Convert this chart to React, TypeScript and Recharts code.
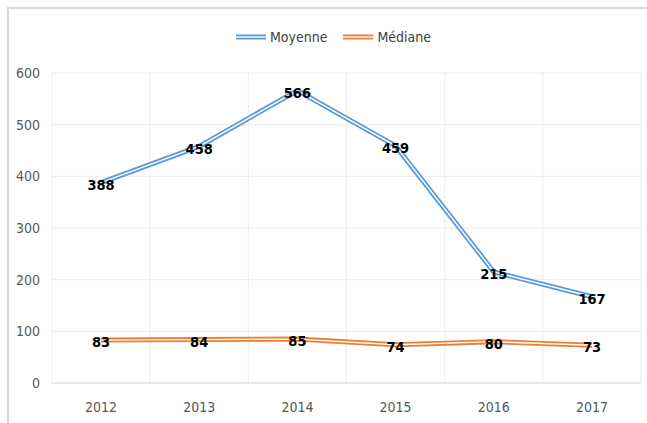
import { CartesianGrid, LabelList, Legend, Line, LineChart, XAxis, YAxis } from "recharts"

const years = ["2012", "2013", "2014", "2015", "2016", "2017"]
const moyenne = [388, 458, 566, 459, 215, 167]
const mediane = [83, 84, 85, 74, 80, 73]
const yTicks = [0, 100, 200, 300, 400, 500, 600]

const data = years.map((year, i) => ({ year, moyenne: moyenne[i], mediane: mediane[i] }))

const font = '"Liberation Sans Narrow", "DejaVu Sans Condensed", "Open Sans", sans-serif'
const blue = "#5b9bd5"
const orange = "#ed7d31"

function DoubleIcon({ color }: { color: string }) {
  return (
    <svg width={30} height={8} style={{ marginRight: 4 }}>
      <line x1={0} y1={4} x2={30} y2={4} stroke={color} strokeWidth={5} />
      <line x1={0} y1={4} x2={30} y2={4} stroke="#fff" strokeWidth={1.4} />
    </svg>
  )
}

function ChartLegend() {
  const items = [
    { name: "Moyenne", color: blue },
    { name: "Médiane", color: orange },
  ]
  return (
    <div style={{ height: 46, display: "flex", justifyContent: "center", alignItems: "flex-start", paddingLeft: 26 }}>
      {items.map((it) => (
        <div key={it.name} style={{ display: "flex", alignItems: "center", margin: "0 8px", height: 20, fontFamily: font, fontSize: 14, color: "#404040" }}>
          <DoubleIcon color={it.color} />
          {it.name}
        </div>
      ))}
    </div>
  )
}

const labelStyle = { fontFamily: font, fontSize: 14.5, fontWeight: 700, fill: "#000" }

export default function App() {
  return (
    <div style={{ position: "absolute", left: 0, top: 0, width: 647, height: 423, background: "#fff", overflow: "hidden" }}>
      <div style={{ position: "absolute", left: 7, top: 7, width: 660, height: 440, borderTop: "2px solid #d9d9d9", borderLeft: "2px solid #d9d9d9" }} />
      <LineChart width={647} height={423} data={data} margin={{ top: 27, right: 6, bottom: 0, left: 0 }}>
        <CartesianGrid
          stroke="#ececec"
          verticalCoordinatesGenerator={({ offset }: any) =>
            years.map((_, i) => offset.left + ((i + 1) * offset.width) / years.length).concat([offset.left])
          }
        />
        <XAxis
          dataKey="year"
          stroke="#d9d9d9"
          tickLine={false}
          tickSize={0}
          tickMargin={19}
          height={40}
          padding={{ left: 49, right: 49 }}
          tick={{ fill: "#595959", fontSize: 14, fontFamily: font }}
        />
        <YAxis
          domain={[0, 600]}
          ticks={yTicks}
          axisLine={false}
          tickLine={false}
          tickSize={0}
          tickMargin={12}
          width={52}
          tick={{ fill: "#595959", fontSize: 14, fontFamily: font }}
        />
        <Legend verticalAlign="top" content={() => <ChartLegend />} />
        <Line dataKey="moyenne" stroke={blue} strokeWidth={5} dot={false} isAnimationActive={false} legendType="none" />
        <Line dataKey="moyenne" stroke="#fff" strokeWidth={1.4} dot={false} isAnimationActive={false} legendType="none">
          <LabelList dataKey="moyenne" position="center" dy={2} style={labelStyle} />
        </Line>
        <Line dataKey="mediane" stroke={orange} strokeWidth={5} dot={false} isAnimationActive={false} legendType="none" />
        <Line dataKey="mediane" stroke="#fff" strokeWidth={1.4} dot={false} isAnimationActive={false} legendType="none">
          <LabelList dataKey="mediane" position="center" dy={2} style={labelStyle} />
        </Line>
      </LineChart>
    </div>
  )
}
